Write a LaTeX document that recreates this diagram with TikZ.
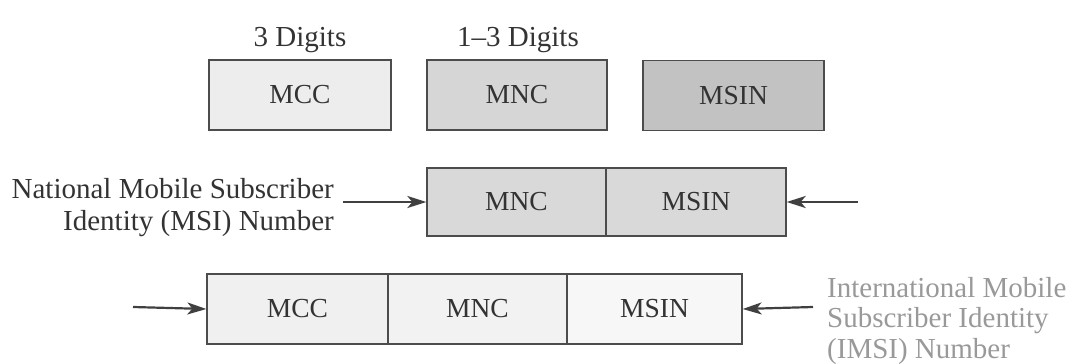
\documentclass[tikz,border=0pt]{standalone}
\usepackage{fontspec}
\setmainfont{Liberation Serif}
\usetikzlibrary{arrows.meta}
\begin{document}
\begin{tikzpicture}[x=1pt,y=-1pt,
 cell/.style={draw=black!70,line width=1.3pt,minimum height=70pt,inner sep=0pt,font=\fontsize{27.5}{30}\selectfont,text=black!80},
 lbl/.style={font=\fontsize{29}{31}\selectfont,text=black!80,inner sep=0pt},
 glbl/.style={lbl,text=black!40,anchor=base west},
 arr/.style={-{Stealth[length=19pt,width=12pt,inset=5pt]},line width=2.2pt,draw=black!75}]
\useasboundingbox (0,0) rectangle (1087,364);
% top row
\node[cell,fill=black!7,minimum width=182pt] (mccA) at (300,95) {MCC};
\node[cell,fill=black!16,minimum width=180pt] (mncA) at (517,95) {MNC};
\node[cell,fill=black!24,minimum width=181pt] (msinA) at (733.5,95.5) {MSIN};
\node[lbl,anchor=base] (dA) at (300,46) {3 Digits};
\node[lbl,anchor=base] (dB) at (518,46) {1--3 Digits};
% middle row
\node[cell,fill=black!15,minimum width=179pt,minimum height=68pt] (mncB) at (516.5,202) {MNC};
\node[cell,fill=black!15,minimum width=180pt,minimum height=68pt] (msinB) at (696,202) {MSIN};
\node[lbl,anchor=base east] (nA) at (334,198) {National Mobile Subscriber};
\node[lbl,anchor=base east] (nB) at (334,230) {Identity (MSI) Number};
\coordinate (mL) at (343,202);
\coordinate (mR) at (858,202);
\draw[arr] (mL) -- (mncB.west);
\draw[arr] (mR) -- (msinB.east);
% bottom row
\node[cell,fill=black!6,minimum width=181pt] (mccC) at (297.5,309) {MCC};
\node[cell,fill=black!5,minimum width=179pt] (mncC) at (477.5,309) {MNC};
\node[cell,fill=black!3,minimum width=175pt] (msinC) at (654.5,309) {MSIN};
\node[glbl] (iA) at (827,297) {International Mobile};
\node[glbl] (iB) at (827,327) {Subscriber Identity};
\node[glbl] (iC) at (827,358) {(IMSI) Number};
\coordinate (bL) at (133,307);
\coordinate (bR) at (813,307);
\draw[arr] (bL) -- (mccC.west);
\draw[arr] (bR) -- (msinC.east);
\end{tikzpicture}
\end{document}
